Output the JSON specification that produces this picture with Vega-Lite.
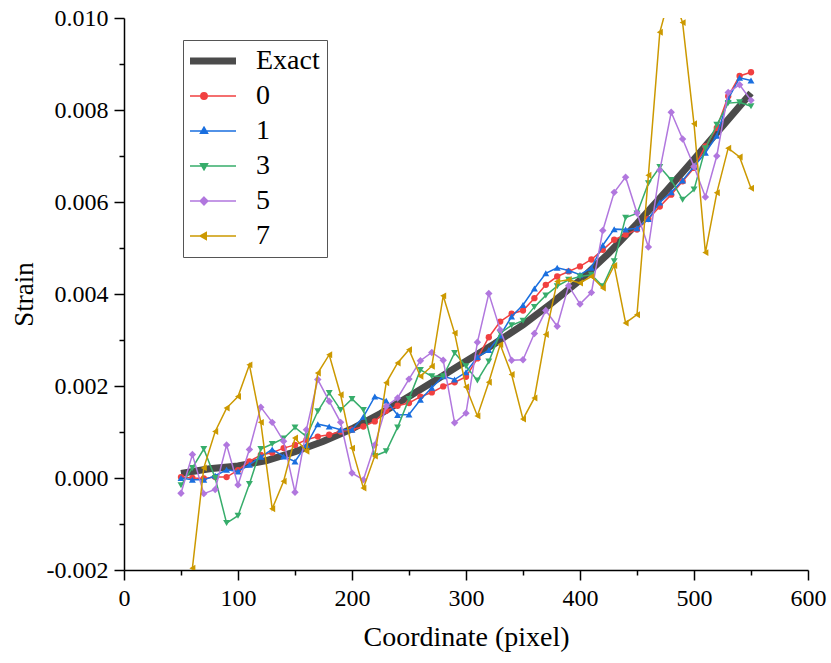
{
  "$schema": "https://vega.github.io/schema/vega-lite/v6.json",
  "width": 684,
  "height": 552,
  "autosize": {"type": "none"},
  "padding": {"left": 124, "top": 18, "right": 23, "bottom": 93},
  "background": "white",
  "config": {
    "view": {"stroke": null},
    "font": "Liberation Serif",
    "axis": {"labelFont": "Liberation Serif", "titleFont": "Liberation Serif", "labelColor": "black", "titleColor": "black", "domainColor": "black", "tickColor": "black", "grid": false, "titleFontWeight": "normal"}
  },
  "data": {"values": [
    {"s":"Exact","x":50,"y":0.0001},{"s":"Exact","x":75,"y":0.0002},{"s":"Exact","x":100,"y":0.00026},{"s":"Exact","x":125,"y":0.00038},{"s":"Exact","x":150,"y":0.00057},{"s":"Exact","x":175,"y":0.0008},{"s":"Exact","x":200,"y":0.00107},{"s":"Exact","x":225,"y":0.0014},{"s":"Exact","x":250,"y":0.00177},{"s":"Exact","x":275,"y":0.00215},{"s":"Exact","x":300,"y":0.00254},{"s":"Exact","x":325,"y":0.00292},{"s":"Exact","x":350,"y":0.00333},{"s":"Exact","x":375,"y":0.0038},{"s":"Exact","x":400,"y":0.0043},{"s":"Exact","x":425,"y":0.00488},{"s":"Exact","x":450,"y":0.00553},{"s":"Exact","x":475,"y":0.00622},{"s":"Exact","x":500,"y":0.00693},{"s":"Exact","x":525,"y":0.00765},{"s":"Exact","x":550,"y":0.00837},

    {"s":"0","x":50,"y":0.00002},{"s":"0","x":60,"y":0.0},{"s":"0","x":70,"y":-0.00001},{"s":"0","x":80,"y":0.00002},{"s":"0","x":90,"y":0.00002},{"s":"0","x":100,"y":0.00017},{"s":"0","x":110,"y":0.00036},{"s":"0","x":120,"y":0.0005},{"s":"0","x":130,"y":0.00055},{"s":"0","x":140,"y":0.00065},{"s":"0","x":150,"y":0.00072},{"s":"0","x":160,"y":0.00083},{"s":"0","x":170,"y":0.0009},{"s":"0","x":180,"y":0.00094},{"s":"0","x":190,"y":0.00101},{"s":"0","x":200,"y":0.00105},{"s":"0","x":210,"y":0.00112},{"s":"0","x":220,"y":0.00123},{"s":"0","x":230,"y":0.00146},{"s":"0","x":240,"y":0.00157},{"s":"0","x":250,"y":0.00163},{"s":"0","x":260,"y":0.00177},{"s":"0","x":270,"y":0.00186},{"s":"0","x":280,"y":0.00199},{"s":"0","x":290,"y":0.00208},{"s":"0","x":300,"y":0.0022},{"s":"0","x":310,"y":0.0026},{"s":"0","x":320,"y":0.00306},{"s":"0","x":330,"y":0.0034},{"s":"0","x":340,"y":0.00357},{"s":"0","x":350,"y":0.00364},{"s":"0","x":360,"y":0.00391},{"s":"0","x":370,"y":0.0042},{"s":"0","x":380,"y":0.00438},{"s":"0","x":390,"y":0.00449},{"s":"0","x":400,"y":0.0046},{"s":"0","x":410,"y":0.00475},{"s":"0","x":420,"y":0.00496},{"s":"0","x":430,"y":0.00518},{"s":"0","x":440,"y":0.00529},{"s":"0","x":450,"y":0.0054},{"s":"0","x":460,"y":0.00563},{"s":"0","x":470,"y":0.0059},{"s":"0","x":480,"y":0.00616},{"s":"0","x":490,"y":0.00645},{"s":"0","x":500,"y":0.00674},{"s":"0","x":510,"y":0.00721},{"s":"0","x":520,"y":0.00761},{"s":"0","x":530,"y":0.0083},{"s":"0","x":540,"y":0.00874},{"s":"0","x":550,"y":0.00882},

    {"s":"1","x":50,"y":0.0},{"s":"1","x":60,"y":-0.00004},{"s":"1","x":70,"y":-0.00004},{"s":"1","x":80,"y":0.00005},{"s":"1","x":90,"y":0.00018},{"s":"1","x":100,"y":0.00014},{"s":"1","x":110,"y":0.00029},{"s":"1","x":120,"y":0.00046},{"s":"1","x":130,"y":0.00062},{"s":"1","x":140,"y":0.00047},{"s":"1","x":150,"y":0.00036},{"s":"1","x":160,"y":0.00072},{"s":"1","x":170,"y":0.00117},{"s":"1","x":180,"y":0.00112},{"s":"1","x":190,"y":0.00105},{"s":"1","x":200,"y":0.00105},{"s":"1","x":210,"y":0.00133},{"s":"1","x":220,"y":0.00177},{"s":"1","x":230,"y":0.00168},{"s":"1","x":240,"y":0.00137},{"s":"1","x":250,"y":0.00138},{"s":"1","x":260,"y":0.0017},{"s":"1","x":270,"y":0.00196},{"s":"1","x":280,"y":0.00221},{"s":"1","x":290,"y":0.00214},{"s":"1","x":300,"y":0.0023},{"s":"1","x":310,"y":0.00263},{"s":"1","x":320,"y":0.00278},{"s":"1","x":330,"y":0.0031},{"s":"1","x":340,"y":0.00351},{"s":"1","x":350,"y":0.00376},{"s":"1","x":360,"y":0.00412},{"s":"1","x":370,"y":0.00445},{"s":"1","x":380,"y":0.00457},{"s":"1","x":390,"y":0.00451},{"s":"1","x":400,"y":0.00442},{"s":"1","x":410,"y":0.00457},{"s":"1","x":420,"y":0.00506},{"s":"1","x":430,"y":0.00541},{"s":"1","x":440,"y":0.0054},{"s":"1","x":450,"y":0.00543},{"s":"1","x":460,"y":0.00563},{"s":"1","x":470,"y":0.00599},{"s":"1","x":480,"y":0.00621},{"s":"1","x":490,"y":0.00647},{"s":"1","x":500,"y":0.00677},{"s":"1","x":510,"y":0.00707},{"s":"1","x":520,"y":0.00744},{"s":"1","x":530,"y":0.00824},{"s":"1","x":540,"y":0.0087},{"s":"1","x":550,"y":0.00864},

    {"s":"3","x":50,"y":-0.00016},{"s":"3","x":60,"y":0.00022},{"s":"3","x":70,"y":0.00063},{"s":"3","x":80,"y":0.0},{"s":"3","x":90,"y":-0.00098},{"s":"3","x":100,"y":-0.00082},{"s":"3","x":110,"y":-0.00013},{"s":"3","x":120,"y":0.00063},{"s":"3","x":130,"y":0.00074},{"s":"3","x":140,"y":0.00086},{"s":"3","x":150,"y":0.0011},{"s":"3","x":160,"y":0.0009},{"s":"3","x":170,"y":0.00145},{"s":"3","x":180,"y":0.00185},{"s":"3","x":190,"y":0.00148},{"s":"3","x":200,"y":0.00172},{"s":"3","x":210,"y":0.00148},{"s":"3","x":220,"y":0.00048},{"s":"3","x":230,"y":0.00058},{"s":"3","x":240,"y":0.0011},{"s":"3","x":250,"y":0.00172},{"s":"3","x":260,"y":0.00235},{"s":"3","x":270,"y":0.00221},{"s":"3","x":280,"y":0.00221},{"s":"3","x":290,"y":0.00272},{"s":"3","x":300,"y":0.00243},{"s":"3","x":310,"y":0.00212},{"s":"3","x":320,"y":0.00253},{"s":"3","x":330,"y":0.00315},{"s":"3","x":340,"y":0.00332},{"s":"3","x":350,"y":0.00342},{"s":"3","x":360,"y":0.00372},{"s":"3","x":370,"y":0.00397},{"s":"3","x":380,"y":0.00417},{"s":"3","x":390,"y":0.00431},{"s":"3","x":400,"y":0.00438},{"s":"3","x":410,"y":0.00442},{"s":"3","x":420,"y":0.00417},{"s":"3","x":430,"y":0.00471},{"s":"3","x":440,"y":0.00566},{"s":"3","x":450,"y":0.00575},{"s":"3","x":460,"y":0.00641},{"s":"3","x":470,"y":0.00676},{"s":"3","x":480,"y":0.00648},{"s":"3","x":490,"y":0.00605},{"s":"3","x":500,"y":0.00627},{"s":"3","x":510,"y":0.00717},{"s":"3","x":520,"y":0.00768},{"s":"3","x":530,"y":0.00815},{"s":"3","x":540,"y":0.00817},{"s":"3","x":550,"y":0.00808},

    {"s":"5","x":50,"y":-0.00033},{"s":"5","x":60,"y":0.00051},{"s":"5","x":70,"y":-0.00034},{"s":"5","x":80,"y":-0.00025},{"s":"5","x":90,"y":0.00072},{"s":"5","x":100,"y":-0.00015},{"s":"5","x":110,"y":0.00062},{"s":"5","x":120,"y":0.00154},{"s":"5","x":130,"y":0.00121},{"s":"5","x":140,"y":0.0008},{"s":"5","x":150,"y":-0.00031},{"s":"5","x":160,"y":0.00105},{"s":"5","x":170,"y":0.00214},{"s":"5","x":180,"y":0.00167},{"s":"5","x":190,"y":0.00121},{"s":"5","x":200,"y":0.00011},{"s":"5","x":210,"y":-0.00004},{"s":"5","x":220,"y":0.00072},{"s":"5","x":230,"y":0.00156},{"s":"5","x":240,"y":0.00174},{"s":"5","x":250,"y":0.00215},{"s":"5","x":260,"y":0.00255},{"s":"5","x":270,"y":0.00273},{"s":"5","x":280,"y":0.00256},{"s":"5","x":290,"y":0.0012},{"s":"5","x":300,"y":0.00141},{"s":"5","x":310,"y":0.00295},{"s":"5","x":320,"y":0.00401},{"s":"5","x":330,"y":0.00322},{"s":"5","x":340,"y":0.00256},{"s":"5","x":350,"y":0.00257},{"s":"5","x":360,"y":0.00314},{"s":"5","x":370,"y":0.00364},{"s":"5","x":380,"y":0.0033},{"s":"5","x":390,"y":0.00418},{"s":"5","x":400,"y":0.00378},{"s":"5","x":410,"y":0.00403},{"s":"5","x":420,"y":0.00538},{"s":"5","x":430,"y":0.00621},{"s":"5","x":440,"y":0.00654},{"s":"5","x":450,"y":0.00576},{"s":"5","x":460,"y":0.00502},{"s":"5","x":470,"y":0.00669},{"s":"5","x":480,"y":0.00795},{"s":"5","x":490,"y":0.00737},{"s":"5","x":500,"y":0.00677},{"s":"5","x":510,"y":0.00611},{"s":"5","x":520,"y":0.007},{"s":"5","x":530,"y":0.00838},{"s":"5","x":540,"y":0.00855},{"s":"5","x":550,"y":0.00821},

    {"s":"7","x":60,"y":-0.00196},{"s":"7","x":70,"y":0.00022},{"s":"7","x":80,"y":0.00101},{"s":"7","x":90,"y":0.00152},{"s":"7","x":100,"y":0.00177},{"s":"7","x":110,"y":0.00246},{"s":"7","x":120,"y":0.00121},{"s":"7","x":130,"y":-0.00067},{"s":"7","x":140,"y":-0.00007},{"s":"7","x":150,"y":0.00087},{"s":"7","x":160,"y":0.00058},{"s":"7","x":170,"y":0.00228},{"s":"7","x":180,"y":0.00268},{"s":"7","x":190,"y":0.00181},{"s":"7","x":200,"y":0.00065},{"s":"7","x":210,"y":-0.00022},{"s":"7","x":220,"y":0.00048},{"s":"7","x":230,"y":0.00207},{"s":"7","x":240,"y":0.0025},{"s":"7","x":250,"y":0.00279},{"s":"7","x":260,"y":0.00221},{"s":"7","x":270,"y":0.00243},{"s":"7","x":280,"y":0.00396},{"s":"7","x":290,"y":0.00315},{"s":"7","x":300,"y":0.00198},{"s":"7","x":310,"y":0.00135},{"s":"7","x":320,"y":0.00208},{"s":"7","x":330,"y":0.0029},{"s":"7","x":340,"y":0.00225},{"s":"7","x":350,"y":0.00128},{"s":"7","x":360,"y":0.00174},{"s":"7","x":370,"y":0.00312},{"s":"7","x":380,"y":0.00427},{"s":"7","x":390,"y":0.00431},{"s":"7","x":400,"y":0.00424},{"s":"7","x":410,"y":0.00438},{"s":"7","x":420,"y":0.00413},{"s":"7","x":430,"y":0.00462},{"s":"7","x":440,"y":0.00337},{"s":"7","x":450,"y":0.00355},{"s":"7","x":460,"y":0.00658},{"s":"7","x":470,"y":0.00969},{"s":"7","x":480,"y":0.0106},{"s":"7","x":490,"y":0.0099},{"s":"7","x":500,"y":0.0077},{"s":"7","x":510,"y":0.0049},{"s":"7","x":520,"y":0.0062},{"s":"7","x":530,"y":0.00717},{"s":"7","x":540,"y":0.00698},{"s":"7","x":550,"y":0.0063}
  ]},
  "resolve": {"axis": {"x": "independent", "y": "independent"}},
  "encoding": {
    "x": {"field": "x", "type": "quantitative", "scale": {"domain": [0, 600], "nice": false, "zero": false}, "axis": null},
    "y": {"field": "y", "type": "quantitative", "scale": {"domain": [-0.002, 0.01], "nice": false, "zero": false}, "axis": null},
    "color": {
      "field": "s", "type": "nominal",
      "scale": {"domain": ["Exact", "0", "1", "3", "5", "7"], "range": ["#4b4b4b", "#F14040", "#1A6FDF", "#37AD6B", "#B177DE", "#CC9900"]},
      "legend": {
        "title": null, "orient": "none", "legendX": 59, "legendY": 22,
        "padding": 7, "strokeColor": "#555555", "fillColor": "white",
        "symbolSize": 4096, "clipHeight": 28, "rowPadding": 7, "symbolOffset": 0,
        "labelFont": "Liberation Serif", "labelFontSize": 28, "labelColor": "black", "labelOffset": 38, "labelLimit": 0,
        "encode": {
          "symbols": {
            "update": {
              "shape": {"signal": "datum.value === 'Exact' ? 'M-1,0H1' : datum.value === '0' ? 'M-1,0H1M0.1,0A0.1,0.1,0,1,1,-0.1,0A0.1,0.1,0,1,1,0.1,0Z' : datum.value === '1' ? 'M-1,0H1M0,-0.12L0.11,0.07L-0.11,0.07Z' : datum.value === '3' ? 'M-1,0H1M0,0.12L0.11,-0.07L-0.11,-0.07Z' : datum.value === '5' ? 'M-1,0H1M0,-0.12L0.12,0L0,0.12L-0.12,0Z' : 'M-1,0H1M-0.12,0L0.07,-0.11L0.07,0.11Z'"},
              "strokeWidth": {"signal": "datum.value === 'Exact' ? 7 : 1.5"},
              "fill": {"signal": "scale('color', datum.value)"},
              "stroke": {"signal": "scale('color', datum.value)"},
              "opacity": {"value": 1},
              "fillOpacity": {"value": 1},
              "strokeOpacity": {"value": 1}
            }
          }
        }
      }
    }
  },
  "layer": [
    {
      "transform": [{"filter": "datum.s === 'Exact'"}],
      "mark": {"type": "line", "strokeWidth": 7},
      "encoding": {
        "x": {"field": "x", "type": "quantitative", "scale": {"domain": [0, 600], "nice": false, "zero": false},
          "axis": {"orient": "bottom", "values": [0, 100, 200, 300, 400, 500, 600], "format": "d", "labelFontSize": 24, "labelPadding": 6, "labelFlush": false, "labelOverlap": false, "tickSize": 10, "tickWidth": 1.5, "domainWidth": 1.5, "title": "Coordinate (pixel)", "titleFontSize": 28, "titlePadding": 13}},
        "y": {"field": "y", "type": "quantitative", "scale": {"domain": [-0.002, 0.01], "nice": false, "zero": false},
          "axis": {"orient": "left", "values": [-0.002, 0, 0.002, 0.004, 0.006, 0.008, 0.01], "labelExpr": "replace(format(datum.value, '.3f'), '\u2212', '-')", "labelFontSize": 24, "labelPadding": 6, "labelFlush": false, "labelOverlap": false, "tickSize": 10, "tickWidth": 1.5, "domainWidth": 1.5, "title": "Strain", "titleFontSize": 27, "titlePadding": 8}}
      }
    },
    {
      "transform": [{"filter": "datum.s === '0'"}],
      "mark": {"type": "line", "strokeWidth": 1.5},
      "encoding": {
        "x": {"field": "x", "type": "quantitative", "scale": {"domain": [0, 600], "nice": false, "zero": false},
          "axis": {"orient": "bottom", "values": [50, 150, 250, 350, 450, 550], "labels": false, "domain": false, "tickSize": 5, "tickWidth": 1.5, "title": null}},
        "y": {"field": "y", "type": "quantitative", "scale": {"domain": [-0.002, 0.01], "nice": false, "zero": false},
          "axis": {"orient": "left", "values": [-0.001, 0.001, 0.003, 0.005, 0.007, 0.009], "labels": false, "domain": false, "tickSize": 5, "tickWidth": 1.5, "title": null}}
      }
    },
    {"transform": [{"filter": "datum.s === '0'"}], "mark": {"type": "point", "shape": "circle", "size": 40, "filled": true, "opacity": 1}},
    {"transform": [{"filter": "datum.s === '1'"}], "mark": {"type": "line", "strokeWidth": 1.5}},
    {"transform": [{"filter": "datum.s === '1'"}], "mark": {"type": "point", "shape": "triangle-up", "size": 48, "filled": true, "opacity": 1}},
    {"transform": [{"filter": "datum.s === '3'"}], "mark": {"type": "line", "strokeWidth": 1.5}},
    {"transform": [{"filter": "datum.s === '3'"}], "mark": {"type": "point", "shape": "triangle-down", "size": 48, "filled": true, "opacity": 1}},
    {"transform": [{"filter": "datum.s === '5'"}], "mark": {"type": "line", "strokeWidth": 1.5}},
    {"transform": [{"filter": "datum.s === '5'"}], "mark": {"type": "point", "shape": "diamond", "size": 55, "filled": true, "opacity": 1}},
    {"transform": [{"filter": "datum.s === '7'"}], "mark": {"type": "line", "strokeWidth": 1.5, "clip": true}},
    {"transform": [{"filter": "datum.s === '7'"}], "mark": {"type": "point", "shape": "triangle-left", "size": 48, "filled": true, "opacity": 1, "clip": true}}
  ]
}
